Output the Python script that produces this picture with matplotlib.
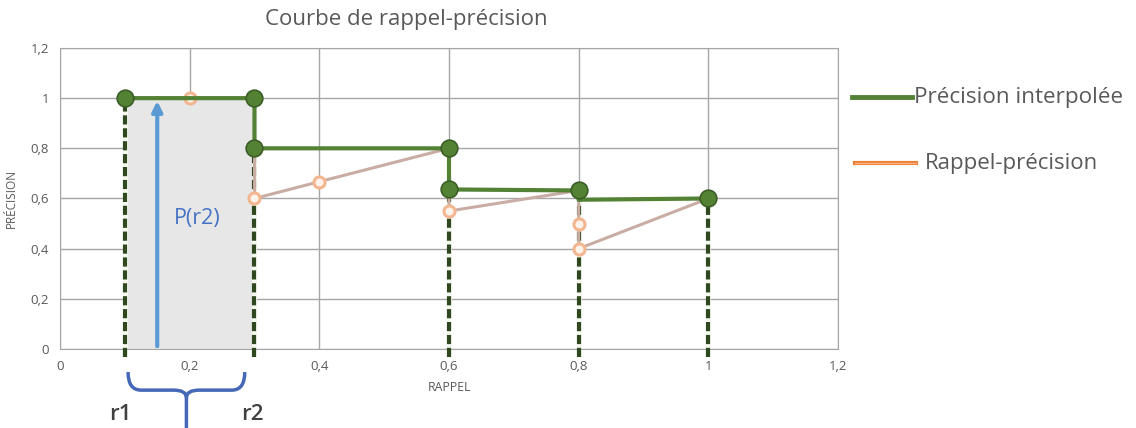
import matplotlib
matplotlib.use("Agg")
import matplotlib.pyplot as plt
from matplotlib.path import Path
from matplotlib.patches import PathPatch, Rectangle

plt.rcParams["font.family"] = ["Open Sans", "DejaVu Sans"]

# raw recall / precision pairs (orange series)
rappel = [0.1, 0.2, 0.3, 0.3, 0.4, 0.6, 0.6, 0.8, 0.8, 0.8, 1.0]
precision = [1.0, 1.0, 1.0, 0.6, 0.667, 0.8, 0.55, 0.632, 0.5, 0.4, 0.6]
# interpolated precision (green step)
rappel_interp = [0.1, 0.3, 0.3, 0.6, 0.6, 0.8, 0.8, 1.0]
prec_interp = [1.0, 1.0, 0.8, 0.8, 0.636, 0.632, 0.595, 0.6]
interp_marker_x = [0.1, 0.3, 0.3, 0.6, 0.6, 0.8, 1.0]
interp_marker_y = [1.0, 1.0, 0.8, 0.8, 0.636, 0.632, 0.6]
# raw points not hidden under green markers
raw_marker_x = [0.2, 0.3, 0.4, 0.6, 0.8, 0.8]
raw_marker_y = [1.0, 0.6, 0.667, 0.55, 0.5, 0.4]
# vertical dashed drops
drop_x = [0.1, 0.3, 0.6, 0.8, 1.0]
drop_top = [1.0, 0.8, 0.636, 0.6, 0.6]

r1, r2 = 0.1, 0.3
p_r2 = 1.0
arrow_x = 0.15

ticks = [0, 0.2, 0.4, 0.6, 0.8, 1.0, 1.2]
tick_labels = ["0", "0,2", "0,4", "0,6", "0,8", "1", "1,2"]

fig = plt.figure(figsize=(11.36, 4.28), dpi=100)
ax = fig.add_axes([0.0528, 0.1846, 0.6849, 0.7033])
ax.set_xlim(0, 1.2)
ax.set_ylim(0, 1.2)
ax.set_xticks(ticks)
ax.set_xticklabels(tick_labels)
ax.set_yticks(ticks)
ax.set_yticklabels(tick_labels)
ax.tick_params(length=0, labelsize=9.5, colors="#595959", pad=8)
ax.grid(True, color="#a6a6a6", lw=1.0)
ax.set_axisbelow(True)
for s in ax.spines.values():
    s.set_color("#a6a6a6")

ax.add_patch(Rectangle((r1, 0), r2 - r1, p_r2, facecolor="#e7e7e7",
                       edgecolor="none", zorder=1.5))

for x, top in zip(drop_x, drop_top):
    ax.plot([x, x], [-0.03, top], color="#f4f8ee", lw=3.6, zorder=2.5,
            clip_on=False, solid_capstyle="butt")
    ax.plot([x, x], [-0.03, top], color="#30481f", lw=3.0, zorder=2.6,
            ls=(0, (2.2, 0.9)), clip_on=False)

ax.annotate("", xy=(arrow_x, p_r2), xytext=(arrow_x, 0),
            arrowprops=dict(arrowstyle="-|>,head_width=0.3,head_length=0.6",
                            color="#5b9bd5", lw=3), zorder=3)
ax.text(0.212, 0.52, "P(r2)", color="#4472c4", fontsize=15.5, ha="center",
        va="center", zorder=3)

ax.plot(rappel, precision, color="#c9aca4", lw=2.2, zorder=4)
ax.plot(raw_marker_x, raw_marker_y, ls="none", marker="o", ms=8,
        mfc="#fdf3ea", mec="#f2b690", mew=2.2, zorder=5)
ax.plot(rappel_interp, prec_interp, color="#548235", lw=3, zorder=6)
ax.plot(interp_marker_x, interp_marker_y, ls="none", marker="o", ms=12,
        mfc="#548235", mec="#3b5e26", mew=1.2, zorder=7)

# brace under r1..r2
bx0, bx1 = 0.105, 0.285
bm = (bx0 + bx1) / 2
ytop, ymid, ybot = -0.092, -0.164, -0.32
k = 0.02
verts = [(bx0, ytop), (bx0, ymid), (bx0 + k, ymid), (bm - k, ymid), (bm, ymid),
         (bm, ymid - 0.03), (bm, ybot),
         (bm, ymid - 0.03), (bm, ymid), (bm + k, ymid), (bx1 - k, ymid),
         (bx1, ymid), (bx1, ytop)]
codes = [Path.MOVETO, Path.CURVE3, Path.CURVE3, Path.LINETO, Path.CURVE3,
         Path.CURVE3, Path.LINETO,
         Path.MOVETO, Path.CURVE3, Path.CURVE3, Path.LINETO,
         Path.CURVE3, Path.CURVE3]
ax.add_patch(PathPatch(Path(verts, codes), fill=False, edgecolor="#4668b8",
                       lw=2.5, clip_on=False))
ax.text(0.093, -0.26, "r1", fontsize=16, color="#404040", ha="center",
        va="center", weight="semibold", clip_on=False)
ax.text(0.297, -0.26, "r2", fontsize=16, color="#404040", ha="center",
        va="center", weight="semibold", clip_on=False)

ax.set_xlabel("RAPPEL", fontsize=8.8, color="#595959", labelpad=6)
ax.set_ylabel("PRÉCISION", fontsize=8.5, color="#595959", labelpad=9)
fig.text(0.358, 0.955, "Courbe de rappel-précision", fontsize=16,
         color="#595959", ha="center", va="center")

# legend drawn at the right
fig.add_artist(plt.Line2D([0.75, 0.803], [0.773, 0.773], color="#548235",
                          lw=3.5))
fig.text(0.805, 0.773, "Précision interpolée", fontsize=16.2, color="#595959",
         va="center")
fig.add_artist(plt.Line2D([0.753, 0.806], [0.619, 0.619], color="#ed7d31",
                          lw=3))
fig.add_artist(plt.Line2D([0.753, 0.806], [0.619, 0.619], color="#f4b183",
                          lw=1))
fig.text(0.814, 0.619, "Rappel-précision", fontsize=16, color="#595959",
         va="center")

fig.savefig("out.png", dpi=100)
